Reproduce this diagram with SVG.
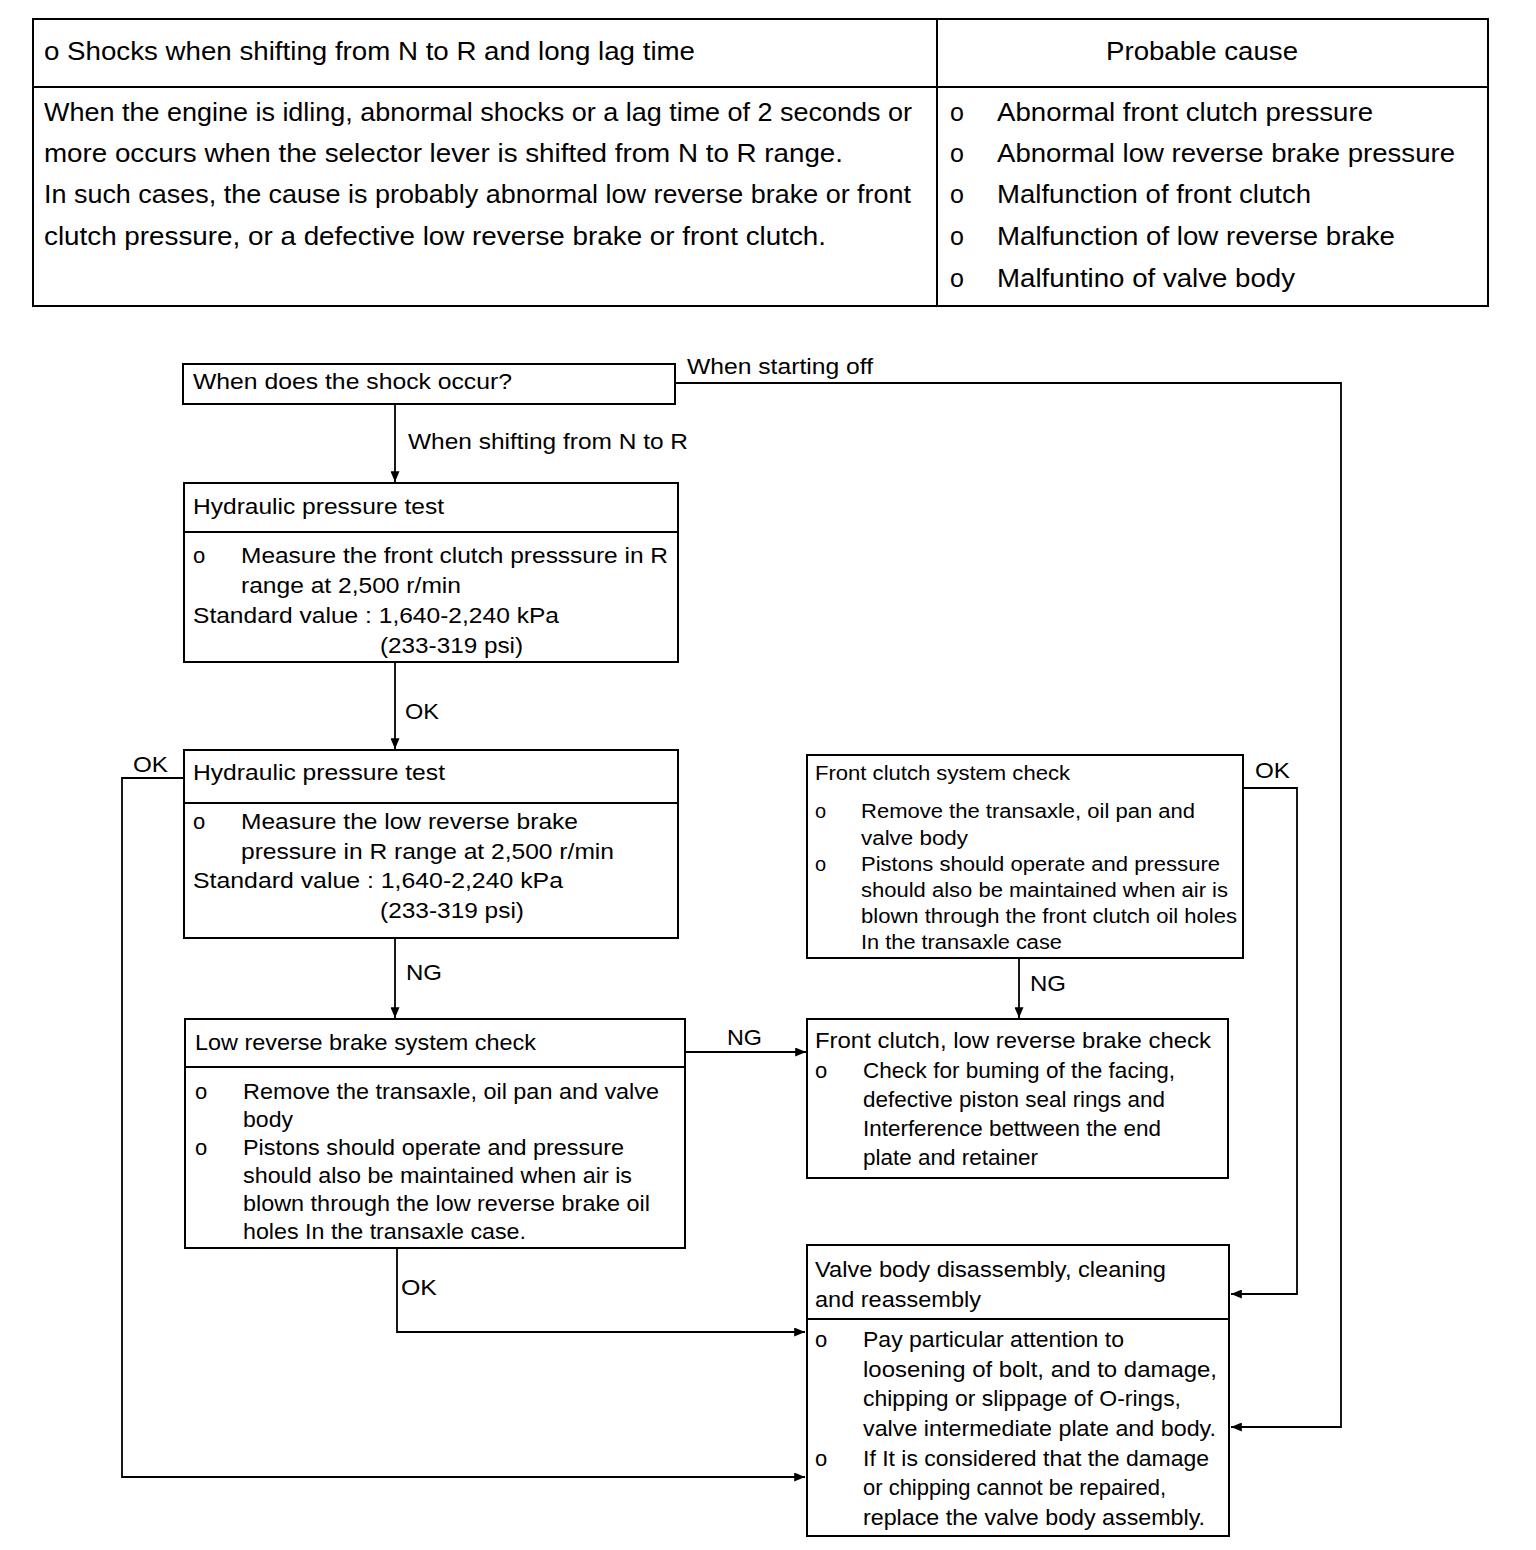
<svg xmlns="http://www.w3.org/2000/svg" width="1536" height="1550" viewBox="0 0 1536 1550">
<style>
text{font-family:"Liberation Sans",Arial,sans-serif;fill:#000;}
.t{font-size:25px;}
.f{font-size:22px;}
.s{font-size:20px;}
.box{fill:#fff;stroke:#000;stroke-width:2;}
.ln{fill:none;stroke:#000;stroke-width:2;}
.con{fill:none;stroke:#000;stroke-width:1.8;}
</style>
<defs>
<marker id="ah" viewBox="0 0 12 10" refX="12" refY="5" markerWidth="12" markerHeight="9" markerUnits="userSpaceOnUse" orient="auto">
<path d="M0,0 L12,5 L0,10 z" fill="#000"/>
</marker>
</defs>
<rect width="1536" height="1550" fill="#fff"/>

<g id="table">
<rect class="box" x="33" y="19" width="1455" height="287"/>
<line class="ln" x1="937" y1="19" x2="937" y2="306"/>
<line class="ln" x1="33" y1="87" x2="1488" y2="87"/>
<text class="t" x="44" y="60" textLength="651" lengthAdjust="spacingAndGlyphs">o Shocks when shifting from N to R and long lag time</text>
<text class="t" x="1106" y="60" textLength="192" lengthAdjust="spacingAndGlyphs">Probable cause</text>
<text class="t" x="44" y="121" textLength="868" lengthAdjust="spacingAndGlyphs">When the engine is idling, abnormal shocks or a lag time of 2 seconds or</text>
<text class="t" x="44" y="162" textLength="799" lengthAdjust="spacingAndGlyphs">more occurs when the selector lever is shifted from N to R range.</text>
<text class="t" x="44" y="203" textLength="867" lengthAdjust="spacingAndGlyphs">In such cases, the cause is probably abnormal low reverse brake or front</text>
<text class="t" x="44" y="245" textLength="782" lengthAdjust="spacingAndGlyphs">clutch pressure, or a defective low reverse brake or front clutch.</text>
<text class="t" x="950" y="121">o</text>
<text class="t" x="997" y="121" textLength="376" lengthAdjust="spacingAndGlyphs">Abnormal front clutch pressure</text>
<text class="t" x="950" y="162">o</text>
<text class="t" x="997" y="162" textLength="458" lengthAdjust="spacingAndGlyphs">Abnormal low reverse brake pressure</text>
<text class="t" x="950" y="203">o</text>
<text class="t" x="997" y="203" textLength="314" lengthAdjust="spacingAndGlyphs">Malfunction of front clutch</text>
<text class="t" x="950" y="245">o</text>
<text class="t" x="997" y="245" textLength="398" lengthAdjust="spacingAndGlyphs">Malfunction of low reverse brake</text>
<text class="t" x="950" y="287">o</text>
<text class="t" x="997" y="287" textLength="298" lengthAdjust="spacingAndGlyphs">Malfuntino of valve body</text>
</g>

<g id="connectors">
<polyline class="con" points="675,383 1341,383 1341,1427 1231,1427" marker-end="url(#ah)"/>
<line class="con" x1="395" y1="404" x2="395" y2="482" marker-end="url(#ah)"/>
<line class="con" x1="395" y1="662" x2="395" y2="749" marker-end="url(#ah)"/>
<polyline class="con" points="184,778 122,778 122,1477 805,1477" marker-end="url(#ah)"/>
<line class="con" x1="395" y1="938" x2="395" y2="1018" marker-end="url(#ah)"/>
<line class="con" x1="685" y1="1052" x2="806" y2="1052" marker-end="url(#ah)"/>
<polyline class="con" points="397,1248 397,1332 805,1332" marker-end="url(#ah)"/>
<polyline class="con" points="1243,788 1297,788 1297,1294 1231,1294" marker-end="url(#ah)"/>
<line class="con" x1="1019" y1="958" x2="1019" y2="1018" marker-end="url(#ah)"/>
<text class="f" x="687" y="374" textLength="186" lengthAdjust="spacingAndGlyphs">When starting off</text>
<text class="f" x="408" y="449" textLength="280" lengthAdjust="spacingAndGlyphs">When shifting from N to R</text>
<text class="f" x="405" y="719" textLength="34" lengthAdjust="spacingAndGlyphs">OK</text>
<text class="f" x="133" y="772" textLength="35" lengthAdjust="spacingAndGlyphs">OK</text>
<text class="f" x="406" y="980" textLength="36" lengthAdjust="spacingAndGlyphs">NG</text>
<text class="f" x="727" y="1045" textLength="35" lengthAdjust="spacingAndGlyphs">NG</text>
<text class="f" x="401" y="1295" textLength="36" lengthAdjust="spacingAndGlyphs">OK</text>
<text class="f" x="1255" y="778" textLength="35" lengthAdjust="spacingAndGlyphs">OK</text>
<text class="f" x="1030" y="991" textLength="36" lengthAdjust="spacingAndGlyphs">NG</text>
</g>

<g id="n-start">
<rect class="box" x="183" y="364" width="492" height="40"/>
<text class="f" x="193" y="389" textLength="319" lengthAdjust="spacingAndGlyphs">When does the shock occur?</text>
</g>

<g id="n-test1">
<rect class="box" x="184" y="483" width="494" height="179"/>
<line class="ln" x1="184" y1="532" x2="678" y2="532"/>
<text class="f" x="193" y="514" textLength="251" lengthAdjust="spacingAndGlyphs">Hydraulic pressure test</text>
<text class="f" x="193" y="563">o</text>
<text class="f" x="241" y="563" textLength="427" lengthAdjust="spacingAndGlyphs">Measure the front clutch presssure in R</text>
<text class="f" x="241" y="593" textLength="220" lengthAdjust="spacingAndGlyphs">range at 2,500 r/min</text>
<text class="f" x="193" y="623" textLength="366" lengthAdjust="spacingAndGlyphs">Standard value : 1,640-2,240 kPa</text>
<text class="f" x="380" y="653" textLength="143" lengthAdjust="spacingAndGlyphs">(233-319 psi)</text>
</g>

<g id="n-test2">
<rect class="box" x="184" y="750" width="494" height="188"/>
<line class="ln" x1="184" y1="803" x2="678" y2="803"/>
<text class="f" x="193" y="780" textLength="252" lengthAdjust="spacingAndGlyphs">Hydraulic pressure test</text>
<text class="f" x="193" y="829">o</text>
<text class="f" x="241" y="829" textLength="337" lengthAdjust="spacingAndGlyphs">Measure the low reverse brake</text>
<text class="f" x="241" y="859" textLength="373" lengthAdjust="spacingAndGlyphs">pressure in R range at 2,500 r/min</text>
<text class="f" x="193" y="888" textLength="370" lengthAdjust="spacingAndGlyphs">Standard value : 1,640-2,240 kPa</text>
<text class="f" x="380" y="918" textLength="144" lengthAdjust="spacingAndGlyphs">(233-319 psi)</text>
</g>

<g id="n-lrb">
<rect class="box" x="185" y="1019" width="500" height="229"/>
<line class="ln" x1="185" y1="1067" x2="685" y2="1067"/>
<text class="f" x="195" y="1050" textLength="341" lengthAdjust="spacingAndGlyphs">Low reverse brake system check</text>
<text class="f" x="195" y="1099">o</text>
<text class="f" x="243" y="1099" textLength="416" lengthAdjust="spacingAndGlyphs">Remove the transaxle, oil pan and valve</text>
<text class="f" x="243" y="1127" textLength="50" lengthAdjust="spacingAndGlyphs">body</text>
<text class="f" x="195" y="1155">o</text>
<text class="f" x="243" y="1155" textLength="381" lengthAdjust="spacingAndGlyphs">Pistons should operate and pressure</text>
<text class="f" x="243" y="1183" textLength="389" lengthAdjust="spacingAndGlyphs">should also be maintained when air is</text>
<text class="f" x="243" y="1211" textLength="407" lengthAdjust="spacingAndGlyphs">blown through the low reverse brake oil</text>
<text class="f" x="243" y="1239" textLength="283" lengthAdjust="spacingAndGlyphs">holes In the transaxle case.</text>
</g>

<g id="n-fc">
<rect class="box" x="807" y="755" width="436" height="203"/>
<text class="s" x="815" y="780" textLength="255" lengthAdjust="spacingAndGlyphs">Front clutch system check</text>
<text class="s" x="815" y="818">o</text>
<text class="s" x="861" y="818" textLength="334" lengthAdjust="spacingAndGlyphs">Remove the transaxle, oil pan and</text>
<text class="s" x="861" y="845" textLength="107" lengthAdjust="spacingAndGlyphs">valve body</text>
<text class="s" x="815" y="871">o</text>
<text class="s" x="861" y="871" textLength="359" lengthAdjust="spacingAndGlyphs">Pistons should operate and pressure</text>
<text class="s" x="861" y="897" textLength="367" lengthAdjust="spacingAndGlyphs">should also be maintained when air is</text>
<text class="s" x="861" y="923" textLength="376" lengthAdjust="spacingAndGlyphs">blown through the front clutch oil holes</text>
<text class="s" x="861" y="949" textLength="201" lengthAdjust="spacingAndGlyphs">In the transaxle case</text>
</g>

<g id="n-fclrb">
<rect class="box" x="807" y="1019" width="421" height="159"/>
<text class="f" x="815" y="1048" textLength="396" lengthAdjust="spacingAndGlyphs">Front clutch, low reverse brake check</text>
<text class="f" x="815" y="1078">o</text>
<text class="f" x="863" y="1078" textLength="312" lengthAdjust="spacingAndGlyphs">Check for buming of the facing,</text>
<text class="f" x="863" y="1107" textLength="302" lengthAdjust="spacingAndGlyphs">defective piston seal rings and</text>
<text class="f" x="863" y="1136" textLength="298" lengthAdjust="spacingAndGlyphs">Interference bettween the end</text>
<text class="f" x="863" y="1165" textLength="175" lengthAdjust="spacingAndGlyphs">plate and retainer</text>
</g>

<g id="n-valve">
<rect class="box" x="807" y="1245" width="422" height="291"/>
<line class="ln" x1="807" y1="1319" x2="1229" y2="1319"/>
<text class="f" x="815" y="1277" textLength="351" lengthAdjust="spacingAndGlyphs">Valve body disassembly, cleaning</text>
<text class="f" x="815" y="1307" textLength="166" lengthAdjust="spacingAndGlyphs">and reassembly</text>
<text class="f" x="815" y="1347">o</text>
<text class="f" x="863" y="1347" textLength="261" lengthAdjust="spacingAndGlyphs">Pay particular attention to</text>
<text class="f" x="863" y="1377" textLength="354" lengthAdjust="spacingAndGlyphs">loosening of bolt, and to damage,</text>
<text class="f" x="863" y="1406" textLength="318" lengthAdjust="spacingAndGlyphs">chipping or slippage of O-rings,</text>
<text class="f" x="863" y="1436" textLength="353" lengthAdjust="spacingAndGlyphs">valve intermediate plate and body.</text>
<text class="f" x="815" y="1466">o</text>
<text class="f" x="863" y="1466" textLength="346" lengthAdjust="spacingAndGlyphs">If It is considered that the damage</text>
<text class="f" x="863" y="1495" textLength="303" lengthAdjust="spacingAndGlyphs">or chipping cannot be repaired,</text>
<text class="f" x="863" y="1525" textLength="342" lengthAdjust="spacingAndGlyphs">replace the valve body assembly.</text>
</g>
</svg>
